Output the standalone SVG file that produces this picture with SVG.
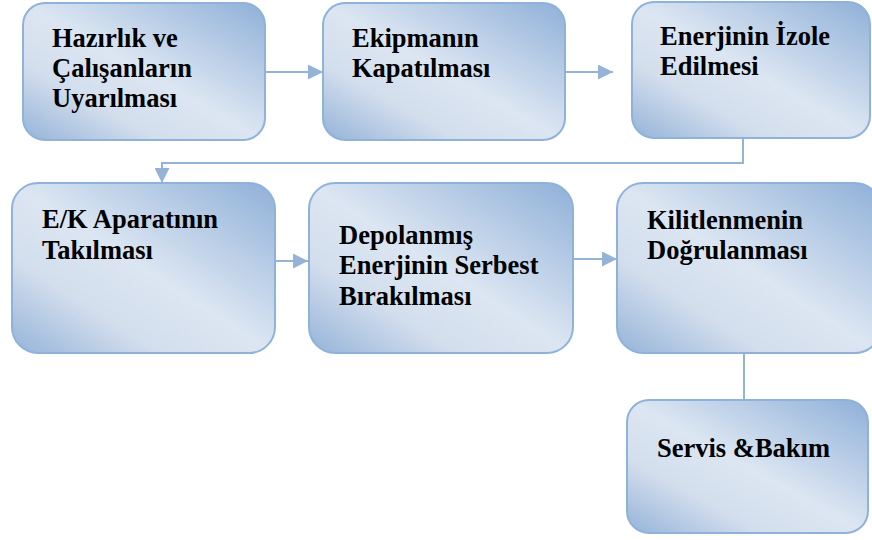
<svg xmlns="http://www.w3.org/2000/svg" width="872" height="540" viewBox="0 0 872 540">
  <defs>
    <linearGradient id="boxFill" x1="1" y1="0" x2="0" y2="1">
      <stop offset="0" stop-color="#8fb0d8"/>
      <stop offset="0.5" stop-color="#dce6f2"/>
      <stop offset="0.72" stop-color="#d3deed"/>
      <stop offset="1" stop-color="#94b3d8"/>
    </linearGradient>
    <marker id="arrow" viewBox="0 0 10 10" refX="10" refY="5" markerWidth="15" markerHeight="15" markerUnits="userSpaceOnUse" orient="auto">
      <path d="M0,0 L10,5 L0,10 Z" fill="#95b3d7"/>
    </marker>
  </defs>
  <style>
    .box { fill: url(#boxFill); stroke: #8fb2da; stroke-width: 2; }
    .conn { fill: none; stroke: #95b3d7; stroke-width: 2; }
  </style>
  <rect width="872" height="540" fill="#fff"/>

  <g id="connectors">
    <path class="conn" d="M265,72 H323" marker-end="url(#arrow)"/>
    <path class="conn" d="M565,72 H613" marker-end="url(#arrow)"/>
    <path class="conn" d="M743,138 V163 H162 V183" marker-end="url(#arrow)"/>
    <path class="conn" d="M275,261 H308" marker-end="url(#arrow)"/>
    <path class="conn" d="M573,259 H617" marker-end="url(#arrow)"/>
    <path class="conn" d="M744,353 V400"/>
  </g>

  <!-- step boxes; text settings are inherited by every label -->
  <g font-family="Liberation Serif, Times New Roman, serif" font-weight="bold" font-size="26.5" fill="#000">
    <g id="hazirlik">
      <rect class="box" x="23" y="3" width="242" height="137" rx="22"/>
      <text x="52" y="47">Hazırlık ve</text>
      <text x="52" y="77">Çalışanların</text>
      <text x="52" y="107">Uyarılması</text>
    </g>

    <g id="kapatma">
      <rect class="box" x="323" y="3" width="242" height="137" rx="22"/>
      <text x="352" y="47">Ekipmanın</text>
      <text x="352" y="77">Kapatılması</text>
    </g>

    <g id="izolasyon">
      <rect class="box" x="632" y="2" width="238" height="136" rx="22"/>
      <text x="660" y="45">Enerjinin İzole</text>
      <text x="660" y="75">Edilmesi</text>
    </g>

    <g id="ek-aparat">
      <rect class="box" x="12" y="183" width="263" height="170" rx="26"/>
      <text x="42" y="228">E/K Aparatının</text>
      <text x="42" y="259">Takılması</text>
    </g>

    <g id="depolanmis">
      <rect class="box" x="309" y="183" width="264" height="170" rx="26"/>
      <text x="339" y="244">Depolanmış</text>
      <text x="339" y="274">Enerjinin Serbest</text>
      <text x="339" y="305">Bırakılması</text>
    </g>

    <g id="dogrulama">
      <rect class="box" x="617" y="183" width="264" height="170" rx="26"/>
      <text x="647" y="229">Kilitlenmenin</text>
      <text x="647" y="259">Doğrulanması</text>
    </g>

    <g id="servis">
      <rect class="box" x="627" y="400" width="241" height="133" rx="22"/>
      <text x="657" y="457">Servis &amp;Bakım</text>
    </g>
  </g>
</svg>
